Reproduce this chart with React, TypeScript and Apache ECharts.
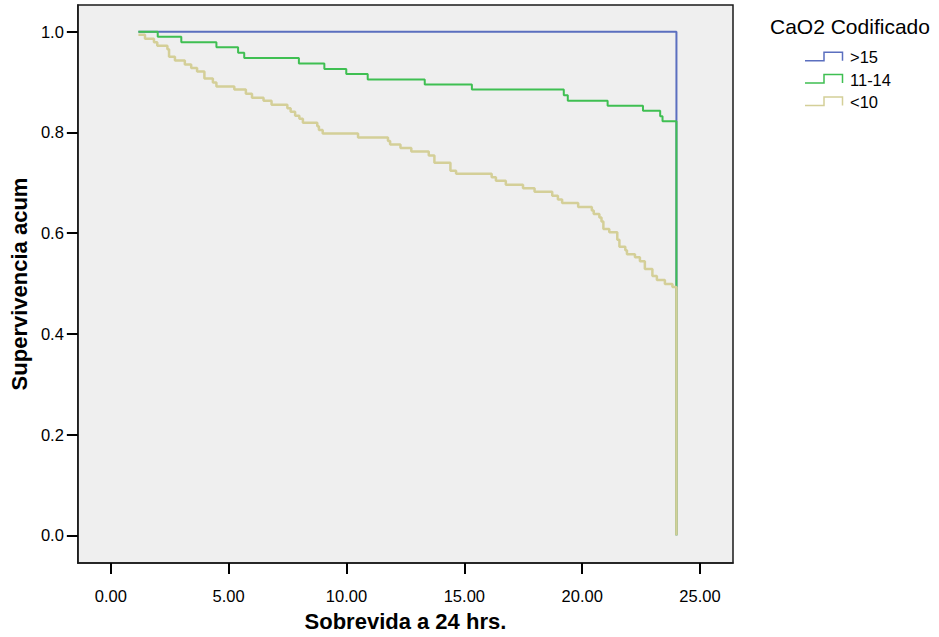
import React, { useEffect, useRef } from "react";
import * as echarts from "echarts";

const xTicks = [0, 5, 10, 15, 20, 25];
const yTicks = [0, 0.2, 0.4, 0.6, 0.8, 1.0];

const groupNames = [">15", "11-14", "<10"];
const groupColors = ["#5b6fbf", "#3fbf52", "#d4cf98"];

// Kaplan-Meier steps: [time, cumulative survival]
const seriesHigh: [number, number][] = [
  [1.17, 1.0],
  [24.0, 0.0],
];

const seriesMid: [number, number][] = [
  [1.17, 1.0], [1.99, 0.99], [2.99, 0.979], [4.48, 0.969], [5.4, 0.958],
  [5.66, 0.948], [7.98, 0.937], [9.06, 0.926], [9.99, 0.916], [10.9, 0.905],
  [13.32, 0.895], [15.32, 0.885], [19.22, 0.874], [19.39, 0.863], [21.08, 0.853],
  [22.58, 0.843], [23.31, 0.832], [23.41, 0.822], [24.0, 0.0],
];

const seriesLow: [number, number][] = [
  [1.17, 0.994], [1.45, 0.986], [1.83, 0.979], [1.97, 0.972], [2.4, 0.965],
  [2.47, 0.95], [2.72, 0.943], [3.14, 0.935], [3.41, 0.928], [3.66, 0.921],
  [3.97, 0.907], [4.33, 0.899], [4.48, 0.891], [5.24, 0.885], [5.73, 0.877],
  [5.99, 0.869], [6.48, 0.863], [6.82, 0.855], [7.49, 0.848], [7.63, 0.841],
  [7.82, 0.833], [8.0, 0.827], [8.15, 0.819], [8.76, 0.812], [8.83, 0.805],
  [8.99, 0.798], [10.49, 0.79], [11.76, 0.783], [11.85, 0.776], [12.29, 0.769],
  [12.75, 0.762], [13.49, 0.754], [13.73, 0.74], [14.41, 0.724], [14.65, 0.718],
  [16.16, 0.711], [16.34, 0.704], [16.76, 0.696], [17.49, 0.689], [17.98, 0.682],
  [18.73, 0.674], [18.97, 0.667], [19.15, 0.66], [19.83, 0.652], [20.41, 0.645],
  [20.49, 0.638], [20.73, 0.631], [20.82, 0.623], [20.9, 0.608], [21.15, 0.602],
  [21.49, 0.587], [21.58, 0.573], [21.83, 0.566], [21.9, 0.558], [22.24, 0.552],
  [22.45, 0.544], [22.66, 0.529], [22.98, 0.515], [23.17, 0.507], [23.51, 0.499],
  [23.83, 0.493], [24.0, 0.0],
];

const allSeries = [seriesHigh, seriesMid, seriesLow];
const lineWidths = [2, 2, 2.5];

const FONT = "'Liberation Sans', Arial, sans-serif";

export default function App() {
  const ref = useRef<HTMLDivElement>(null);

  useEffect(() => {
    if (!ref.current) return;
    const chart = echarts.init(ref.current, undefined, { renderer: "svg" });

    const legendGraphics: any[] = [
      {
        type: "text",
        x: 770,
        y: 26,
        style: {
          text: "CaO2 Codificado",
          font: `21px ${FONT}`,
          fill: "#000",
          verticalAlign: "middle",
          align: "left",
        },
      },
    ];
    groupNames.forEach((name, i) => {
      const cy = 56.7 + i * 22.4;
      legendGraphics.push({
        type: "polyline",
        shape: {
          points: [
            [805, cy + 4],
            [824, cy + 4],
            [824, cy - 4.5],
            [842.5, cy - 4.5],
            [842.5, cy + 4],
          ],
        },
        style: { stroke: groupColors[i], lineWidth: 1.5, fill: "none" },
      });
      legendGraphics.push({
        type: "text",
        x: 850,
        y: cy + 0.5,
        style: {
          text: name,
          font: `16.5px ${FONT}`,
          fill: "#000",
          verticalAlign: "middle",
          align: "left",
        },
      });
    });

    chart.setOption({
      animation: false,
      backgroundColor: "#ffffff",
      textStyle: { fontFamily: FONT },
      grid: {
        left: 75,
        top: 5,
        right: 206,
        bottom: 74,
        show: true,
        backgroundColor: "#efefef",
        borderColor: "#1a1a1a",
        borderWidth: 1.5,
      },
      xAxis: {
        type: "value",
        min: -1.4,
        max: 26.4,
        name: "Sobrevida a 24 hrs.",
        nameLocation: "middle",
        nameGap: 47,
        nameTextStyle: { fontFamily: FONT, fontSize: 22, fontWeight: "bold", color: "#000" },
        axisLine: { show: true, onZero: false, lineStyle: { color: "#1a1a1a", width: 1.5 } },
        axisTick: {
          show: true,
          length: 11,
          lineStyle: { color: "#000", width: 2 },
          customValues: xTicks,
        },
        axisLabel: {
          customValues: xTicks,
          margin: 24,
          fontSize: 16.5,
          color: "#000",
          fontFamily: FONT,
          formatter: (v: number) => v.toFixed(2),
        },
        splitLine: { show: false },
      },
      yAxis: {
        type: "value",
        min: -0.055,
        max: 1.053,
        name: "Supervivencia acum",
        nameLocation: "middle",
        nameGap: 44,
        nameTextStyle: { fontFamily: FONT, fontSize: 22, fontWeight: "bold", color: "#000" },
        axisLine: { show: true, onZero: false, lineStyle: { color: "#1a1a1a", width: 1.5 } },
        axisTick: {
          show: true,
          length: 11,
          lineStyle: { color: "#000", width: 2 },
          customValues: yTicks,
        },
        axisLabel: {
          customValues: yTicks,
          margin: 14,
          fontSize: 16.5,
          color: "#000",
          fontFamily: FONT,
          formatter: (v: number) => v.toFixed(1),
        },
        splitLine: { show: false },
      },
      series: allSeries.map((data, i) => ({
        type: "line",
        name: groupNames[i],
        data,
        step: "end",
        symbol: "none",
        z: 2 + i,
        lineStyle: { color: groupColors[i], width: lineWidths[i] },
      })),
      graphic: legendGraphics,
    });

    return () => chart.dispose();
  }, []);

  return (
    <div
      ref={ref}
      style={{ position: "fixed", left: 0, top: 0, width: 939, height: 637 }}
    />
  );
}
